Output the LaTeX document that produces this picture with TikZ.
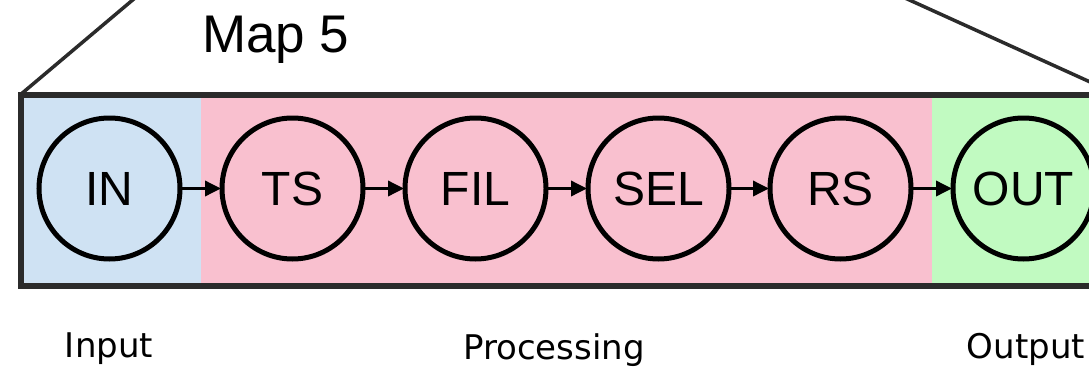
\documentclass[tikz,border=0pt]{standalone}
\usepackage{fontspec}
\setmainfont{Liberation Sans}
\newfontfamily\labfont{DejaVu Sans}
\usetikzlibrary{arrows.meta}
\definecolor{inblue}{RGB}{207,226,243}
\definecolor{procpink}{RGB}{249,192,207}
\definecolor{outgreen}{RGB}{193,250,193}
\definecolor{framegray}{RGB}{43,43,43}
\tikzset{
  stage/.style={circle, draw=black, line width=5pt, minimum size=141pt, inner sep=0pt,
    font=\fontsize{48}{50}\selectfont},
  flow/.style={line width=3.5pt, -{Triangle[length=16pt,width=15pt]}, shorten <=-1pt, shorten >=-1.5pt},
  lab/.style={font=\labfont\fontsize{34}{38}\selectfont, anchor=base},
}
\begin{document}
\begin{tikzpicture}[x=1pt,y=-1pt]
\useasboundingbox (0,0) rectangle (1089,367);
\begin{scope}
\clip (0,0) rectangle (1089,367);
% zoom lines
\draw[line width=3.5pt, color=framegray] (20,95) -- (135,-2);
\draw[line width=3.5pt, color=framegray] (905,-2) -- (1110,91);
% region fills
\fill[inblue] (21,95) rectangle (201,286);
\fill[procpink] (201,95) rectangle (932,286);
\fill[outgreen] (932,95) rectangle (1100,286);
\draw[line width=5.5pt, color=framegray] (1110,95) -- (21,95) -- (21,286) -- (1110,286);
% stages
\node[stage] (in) at (109.5,188.5) {IN};
\node[stage] (ts) at (292.5,188.5) {TS};
\node[stage] (fil) at (475.5,188.5) {FIL};
\node[stage] (sel) at (658.5,188.5) {SEL};
\node[stage] (rs) at (840.5,188.5) {RS};
\node[stage] (out) at (1023.5,188.5) {OUT};
\draw[flow] (in) -- (ts);
\draw[flow] (ts) -- (fil);
\draw[flow] (fil) -- (sel);
\draw[flow] (sel) -- (rs);
\draw[flow] (rs) -- (out);
\end{scope}
\node[anchor=base west, inner sep=0pt, font=\fontsize{53}{60}\selectfont] (title) at (202,52) {Map 5};
\node[lab] (linput) at (109,357) {Input};
\node[lab] (lproc) at (554,359) {Processing};
\node[lab] (loutput) at (1026,358) {Output};
\end{tikzpicture}
\end{document}
